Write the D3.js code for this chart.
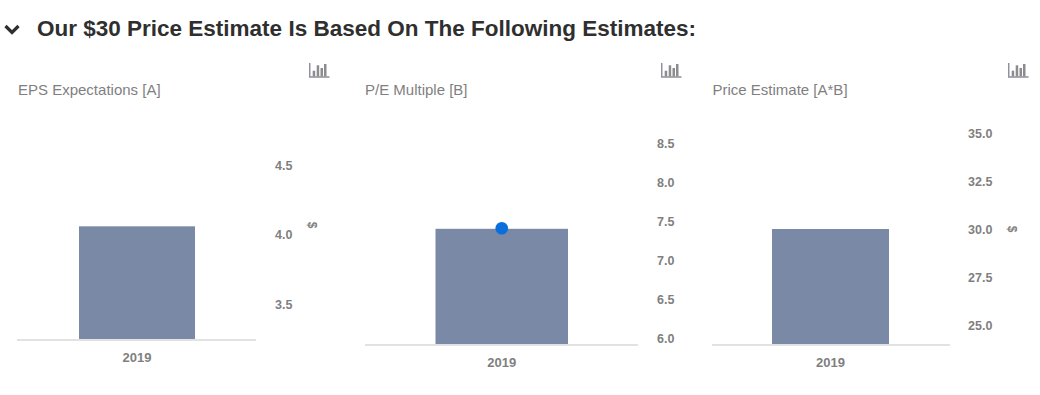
<!DOCTYPE html>
<html>
<head>
<meta charset="utf-8">
<script src="https://cdn.jsdelivr.net/npm/d3@7"></script>
<style>
  html, body { margin: 0; padding: 0; background: #fff; overflow: hidden; }
  text { font-family: "Liberation Sans", Arial, sans-serif; }
</style>
</head>
<body>
<script>
var chartTitle = 'Our $30 Price Estimate Is Based On The Following Estimates:';
var categories = ['2019'];
var panelTitles = ['EPS Expectations [A]', 'P/E Multiple [B]', 'Price Estimate [A*B]'];
var epsValues = [4.06];
var peValues = [7.4];
var priceValues = [30];
var epsTicks = [3.5, 4.0, 4.5];
var peTicks = [6.0, 6.5, 7.0, 7.5, 8.0, 8.5];
var priceTicks = [25.0, 27.5, 30.0, 32.5, 35.0];

// layout of the three panels, tickPos is where the first and last tick sit
var panels = [
  { title: panelTitles[0], values: epsValues, ticks: epsTicks, left: 17, right: 256, base: 339,
    barLeft: 79, barRight: 195, tickPos: [304, 165.3], axisX: 275, titleX: 18, iconX: 309, unit: [312, 225], dot: false },
  { title: panelTitles[1], values: peValues, ticks: peTicks, left: 365, right: 638, base: 344,
    barLeft: 435.5, barRight: 568, tickPos: [338, 143], axisX: 657, titleX: 365, iconX: 661, unit: null, dot: true },
  { title: panelTitles[2], values: priceValues, ticks: priceTicks, left: 712, right: 950, base: 344,
    barLeft: 772, barRight: 889, tickPos: [325, 133], axisX: 968, titleX: 712.5, iconX: 1008, unit: [1012, 229], dot: false }
];

var svg = d3.select('body').append('svg')
  .attr('width', 1040)
  .attr('height', 395);

// header
svg.append('path')
  .attr('d', 'M5.5 26 L12 32.5 L18.5 26')
  .attr('fill', 'none')
  .attr('stroke', '#2f2f2f')
  .attr('stroke-width', 3.2);

svg.append('text')
  .attr('x', 37)
  .attr('y', 36)
  .attr('font-size', 22.5)
  .attr('font-weight', 'bold')
  .attr('fill', '#2f2f2f')
  .text(chartTitle);

panels.forEach(function(p) {
  var g = svg.append('g');

  // y scale comes from the first and last tick
  var yScale = d3.scaleLinear()
    .domain([p.ticks[0], p.ticks[p.ticks.length - 1]])
    .range(p.tickPos);

  var xScale = d3.scaleBand()
    .domain(categories)
    .range([p.barLeft, p.barRight]);

  g.append('text')
    .attr('x', p.titleX)
    .attr('y', 95)
    .attr('font-size', 15)
    .attr('fill', '#7f7f7f')
    .text(p.title);

  // bar
  g.selectAll('rect.bar')
    .data(p.values)
    .enter()
    .append('rect')
    .attr('class', 'bar')
    .attr('x', (d, i) => xScale(categories[i]))
    .attr('y', d => yScale(d))
    .attr('width', xScale.bandwidth())
    .attr('height', d => p.base - yScale(d))
    .attr('fill', '#7a89a5');

  // baseline
  g.append('line')
    .attr('x1', p.left)
    .attr('x2', p.right)
    .attr('y1', p.base + 1)
    .attr('y2', p.base + 1)
    .attr('stroke', '#e2e2e2')
    .attr('stroke-width', 2);

  // category label
  g.append('g')
    .attr('transform', `translate(0, ${p.base + 5})`)
    .call(d3.axisBottom(xScale).tickSize(0).tickPadding(9))
    .call(a => a.select('.domain').remove())
    .selectAll('text')
    .attr('font-family', '"Liberation Sans", Arial, sans-serif')
    .attr('font-size', 13)
    .attr('font-weight', 'bold')
    .attr('fill', '#7f7f7f');

  // value axis on the right
  g.append('g')
    .attr('transform', `translate(${p.axisX}, 0)`)
    .call(d3.axisRight(yScale).tickValues(p.ticks).tickFormat(d3.format('.1f')).tickSize(0).tickPadding(0))
    .call(a => a.select('.domain').remove())
    .selectAll('text')
    .attr('font-family', '"Liberation Sans", Arial, sans-serif')
    .attr('font-size', 12.5)
    .attr('font-weight', 'bold')
    .attr('fill', '#7f7f7f');

  // highlighted point
  if (p.dot) {
    g.selectAll('circle')
      .data(p.values)
      .enter()
      .append('circle')
      .attr('cx', (d, i) => xScale(categories[i]) + xScale.bandwidth() / 2)
      .attr('cy', d => yScale(d) - 0.5)
      .attr('r', 6.3)
      .attr('fill', '#0a6fdc');
  }

  // rotated unit label
  if (p.unit) {
    g.append('text')
      .attr('transform', `translate(${p.unit[0] - 4}, ${p.unit[1]}) rotate(90)`)
      .attr('text-anchor', 'middle')
      .attr('font-size', 12)
      .attr('font-weight', 'bold')
      .attr('fill', '#7f7f7f')
      .text('$');
  }

  // chart icon
  var icon = g.append('g').attr('transform', `translate(${p.iconX}, 63)`);
  icon.append('path')
    .attr('d', 'M0.75 0 V14 H20.5')
    .attr('fill', 'none')
    .attr('stroke', '#8a8d9a')
    .attr('stroke-width', 1.4);
  [[3.7, 7.7], [7.7, 2.3], [11.5, 5], [15, 1]].forEach(function(b) {
    icon.append('rect')
      .attr('x', b[0])
      .attr('y', b[1])
      .attr('width', 2.5)
      .attr('height', 13.4 - b[1])
      .attr('fill', '#8d8a90');
  });
});
</script>
</body>
</html>
